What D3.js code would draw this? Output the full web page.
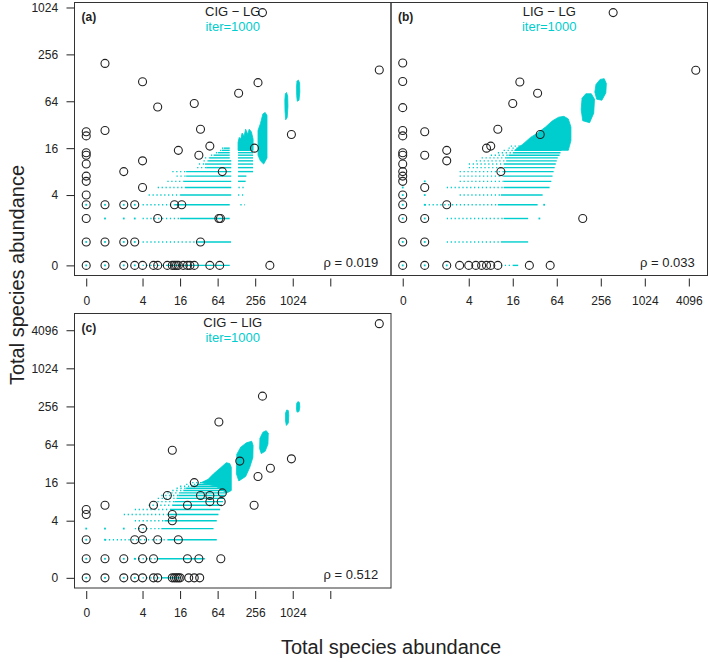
<!DOCTYPE html>
<html>
<head>
<meta charset="utf-8">
<script src="https://cdn.jsdelivr.net/npm/d3@7"></script>
<style>
  body { margin: 0; background: #fff; }
  svg text { font-family: "Liberation Sans", Arial, Helvetica, sans-serif; }
</style>
</head>
<body>
<div id="chart"></div>
<script>
// axis ticks (raw abundances)
const xTicks = [0, 4, 16, 64, 256, 1024, 4096];
const xLabelsAC = ['0', '4', '16', '64', '256', '1024', ''];
const xLabelsB = ['0', '4', '16', '64', '256', '1024', '4096'];
const yTicksA = [0, 4, 16, 64, 256, 1024];
const yTicksC = [0, 4, 16, 64, 256, 1024, 4096];

const titles = ['CIG \u2212 LG', 'LIG \u2212 LG', 'CIG \u2212 LIG'];
const letters = ['(a)', '(b)', '(c)'];
const rhos = ['0.019', '0.033', '0.512'];

// observed species totals, [x, y]
const obsA = [
  [0,26],[0,23],[0,14],[0,13],[0,10],[0,7],[0,6],[0,4],[0,3],[0,2],[0,1],[0,0],
  [1,196],[1,27],[1,3],[1,1],[1,0],
  [2,8],[2,3],[2,1],[2,0],
  [3,3],[3,1],[3,0],
  [4,114],[4,11],[4,5],[4,0],
  [6,0],[7,54],[7,2],[7,0],[10,0],[12,0],[13,0],[14,0],[15,0],[18,0],[21,0],[23,0],[27,0],[48,0],[69,0],[440,0],
  [13,3],[17,3],[67,2],[71,2],[34,1],
  [15,15],[32,13],[48,17],[34,28],[27,60],[76,8],
  [139,81],[284,111],[249,16],[975,24],[335,880],[25000,161]
];
const obsB = [
  [0,198],[0,115],[0,53],[0,27],[0,23],[0,14],[0,13],[0,10],[0,8],[0,7],[0,6],[0,4],[0,3],[0,2],[0,1],[0,0],
  [1,26],[1,13],[1,5],[1,2],[1,1],[1,0],
  [2,15],[2,11],[2,3],[2,0],
  [3,0],[4,0],[5,0],[6,0],[7,0],[8,0],[10,0],[27,0],[52,0],
  [7,16],[8,17],[10,28],[11,8],[16,60],[20,113],[35,81],[38,24],[145,2],[378,880],[5100,160]
];
const obsC = [
  [0,6],[0,5],[0,2],[0,1],[0,0],
  [1,7],[1,1],[1,0],
  [2,1],[2,0],
  [3,2],[3,0],
  [4,3],[4,2],[4,1],[4,0],
  [6,7],[6,1],[6,0],
  [7,2],[7,0],
  [10,10],[12,52],[12,5],[12,4],[12,0],[13,0],[14,0],[15,2],[15,0],[16,0],
  [21,7],[21,1],[22,0],[27,0],[33,0],[32,1],[27,16],[34,10],[48,10],[48,8],
  [72,1],[73,8],[76,11],[67,145],[145,35],[246,7],[284,20],[449,27],[975,38],[335,372],[25000,5200]
];

// simulated rows (iter=1000): [y, first x, start of dense part, last x]
const rowsA = [
  [0,4,10,100],[1,4,30,105],[2,4,16,100],[3,4,13,100],[4,5,16,106],[5,7,19,106],
  [6,10,18,106],[7,14,20,106],[8,12,20,106],[9,30,42,106],[10,32,40,106],[11,38,45,106],
  [12,40,48,100],[13,50,55,100],[14,60,65,100],[15,70,75,100],[16,75,80,100],
  [3,148,175,175],[4,136,175,175],[5,138,180,180],[6,136,136,180],[7,136,136,185],
  [8,136,136,237],[9,136,136,237],[10,136,136,237],[11,136,136,237],[12,136,136,237],
  [13,136,136,237],[14,136,136,237],[15,136,136,237]
];
const rowsB = [
  [0,11,16,19],[1,2,11,26],[2,2,12,26],[3,1,10,35],[4,3,11,41],[5,2,12,51],
  [6,3,12,54],[7,3,12,56],[8,3,12,58],[9,4,12,60],[10,4,12,62],[11,5,13,64],
  [12,6,13,66],[13,8,14,70],[14,10,16,72],[15,12,17,74],[16,14,18,78],[17,15,19,80]
];
const rowsC = [
  [0,4,8,16],[1,3,7,40],[2,1,10,62],[3,3,8,55],[4,3,9,62],[5,2,10,66],
  [6,3,11,70],[7,5,12,75],[8,6,13,78],[9,7,14,82],[10,8,15,85],[11,10,16,88],
  [12,12,18,90],[13,14,20,92],[14,16,24,95],[15,20,30,97],[16,25,38,100]
];

// single simulated points at small values
const dotsA = [[0,0],[1,0],[2,0],[3,0],[0,1],[1,1],[2,1],[3,1],[1,2],[2,2],[3,2],[0,3],[1,3],[2,3],[3,3]];
const dotsB = [[0,0],[1,0],[2,0],[0,1],[1,1],[0,2],[1,2],[0,3],[1,3],[0,4],[1,4],[0,5],[1,6],[37,2],[43,3]];
const dotsC = [[0,0],[1,0],[2,0],[3,0],[0,1],[1,1],[2,1],[3,1],[0,2],[1,2],[0,3],[1,3],[2,3]];

// dense simulated clouds, outlines as [x, y]
const blobsA = [
  [[136,15],[136,19],[142,22],[150,21],[158,25],[170,23],[180,28],[195,24],[205,28],[222,26],[237,21],[237,15]],
  [[284,13],[284,27],[310,33],[340,44],[370,46],[396,42],[396,12],[350,10],[310,11]],
  [[790,37],[770,48],[765,66],[778,80],[815,83],[850,74],[858,55],[835,40]],
  [[1210,64],[1185,76],[1180,100],[1200,116],[1260,120],[1320,110],[1330,84],[1290,66]]
];
const blobsB = [
  [[17,15],[22,18],[28,22],[35,25],[45,30],[56,36],[68,40],[80,41],[92,38],[100,30],[100,20],[92,15]],
  [[145,36],[138,50],[142,70],[160,80],[190,80],[210,68],[205,45],[180,34]],
  [[225,68],[212,84],[220,105],[250,122],[285,125],[305,108],[300,82],[265,66]]
];
const blobsC = [
  [[35,16],[45,18],[55,22],[70,27],[88,33],[100,32],[106,28],[106,12],[90,11],[60,14]],
  [[140,17],[128,22],[130,45],[150,58],[185,68],[225,72],[237,62],[235,40],[210,28],[180,20]],
  [[320,46],[302,55],[305,80],[340,100],[385,106],[415,96],[410,65],[370,50]],
  [[810,128],[785,150],[785,200],[820,225],[870,220],[885,185],[870,140]],
  [[1200,208],[1178,230],[1185,285],[1240,305],[1310,295],[1330,250],[1290,212]]
];

const CYAN = '#00cdcd';
const INK = '#222';
const W = 709, H = 662;

// axes are log2(x) + 1, with zero kept at 0
const tr = v => v > 0 ? Math.log2(v) + 1 : 0;
const pad = ([a, b]) => [a - 0.04 * (b - a), b + 0.04 * (b - a)];

const svg = d3.select('#chart').append('svg')
  .attr('width', W).attr('height', H)
  .style('display', 'block');

const panels = [
  { box: {x0: 74.5, x1: 391, y0: 2.5, y1: 275.5}, obs: obsA, rows: rowsA, dots: dotsA, blobs: blobsA,
    xLabels: xLabelsAC, yTicks: yTicksA, i: 0 },
  { box: {x0: 391, x1: 707.5, y0: 2.5, y1: 275.5}, obs: obsB, rows: rowsB, dots: dotsB, blobs: blobsB,
    xLabels: xLabelsB, yTicks: null, i: 1 },
  { box: {x0: 74.5, x1: 391, y0: 313.5, y1: 588}, obs: obsC, rows: rowsC, dots: dotsC, blobs: blobsC,
    xLabels: xLabelsAC, yTicks: yTicksC, i: 2 }
];

panels.forEach(p => drawPanel(p));

function drawPanel(p) {
  const box = p.box;
  const x = d3.scaleLinear()
    .domain(pad(d3.extent(p.obs, d => tr(d[0]))))
    .range([box.x0, box.x1]);
  const y = d3.scaleLinear()
    .domain(pad(d3.extent(p.obs, d => tr(d[1]))))
    .range([box.y1, box.y0]);
  const X = v => x(tr(v)), Y = v => y(tr(v));

  const g = svg.append('g');

  // clouds
  const outline = d3.line().x(d => X(d[0])).y(d => Y(d[1])).curve(d3.curveLinearClosed);
  g.append('g').selectAll('path')
    .data(p.blobs)
    .join('path')
      .attr('d', outline)
      .attr('fill', CYAN)
      .attr('stroke', CYAN)
      .attr('stroke-width', 0.8);

  // sparse part of each row
  g.append('g').selectAll('line')
    .data(p.rows.filter(r => r[2] > r[1]))
    .join('line')
      .attr('x1', r => X(r[1])).attr('x2', r => X(r[2]))
      .attr('y1', r => Y(r[0])).attr('y2', r => Y(r[0]))
      .attr('stroke', CYAN)
      .attr('stroke-width', 1.4)
      .attr('stroke-dasharray', '1.3,2.6');

  // dense part of each row
  g.append('g').selectAll('line')
    .data(p.rows.filter(r => r[3] > r[2]))
    .join('line')
      .attr('x1', r => X(r[2])).attr('x2', r => X(r[3]))
      .attr('y1', r => Y(r[0])).attr('y2', r => Y(r[0]))
      .attr('stroke', CYAN)
      .attr('stroke-width', 1.4);

  g.append('g').selectAll('rect')
    .data(p.dots)
    .join('rect')
      .attr('x', d => X(d[0]) - 0.9).attr('y', d => Y(d[1]) - 0.9)
      .attr('width', 1.8).attr('height', 1.8)
      .attr('fill', CYAN);

  // observed
  g.append('g').selectAll('circle')
    .data(p.obs)
    .join('circle')
      .attr('cx', d => X(d[0]))
      .attr('cy', d => Y(d[1]))
      .attr('r', 4)
      .attr('fill', 'none')
      .attr('stroke', INK)
      .attr('stroke-width', 1.1);

  g.append('rect')
    .attr('x', box.x0).attr('y', box.y0)
    .attr('width', box.x1 - box.x0).attr('height', box.y1 - box.y0)
    .attr('fill', 'none')
    .attr('stroke', '#333')
    .attr('stroke-width', 1);

  // x axis, hung a little below the box like base R
  const xAxis = g.append('g')
    .attr('transform', 'translate(0,' + (box.y1 + 3) + ')')
    .call(d3.axisBottom(x)
      .tickValues(xTicks.map(tr))
      .tickFormat((d, i) => p.xLabels[i])
      .tickSize(8)
      .tickPadding(9.5)
      .tickSizeOuter(0));
  xAxis.select('.domain').remove();
  xAxis.attr('font-size', 12).attr('font-family', null).style('color', INK);

  if (p.yTicks) {
    const yAxis = g.append('g')
      .attr('transform', 'translate(' + box.x0 + ',0)')
      .call(d3.axisLeft(y)
        .tickValues(p.yTicks.map(tr))
        .tickFormat((d, i) => String(p.yTicks[i]))
        .tickSize(8)
        .tickPadding(8.4)
        .tickSizeOuter(0));
    yAxis.select('.domain').remove();
    yAxis.attr('font-size', 12).attr('font-family', null).style('color', INK);
  }

  const cx = (box.x0 + box.x1) / 2;
  g.append('text')
    .attr('x', cx).attr('y', box.y0 + 13.8)
    .attr('text-anchor', 'middle')
    .attr('font-size', 13)
    .attr('fill', INK)
    .text(titles[p.i]);
  g.append('text')
    .attr('x', cx).attr('y', box.y0 + 28.3)
    .attr('text-anchor', 'middle')
    .attr('font-size', 13)
    .attr('fill', CYAN)
    .text('iter=1000');
  g.append('text')
    .attr('x', box.x0 + 7).attr('y', box.y0 + 18.3)
    .attr('font-size', 12)
    .attr('font-weight', 'bold')
    .attr('fill', INK)
    .text(letters[p.i]);
  g.append('text')
    .attr('x', box.x1 - 12.7).attr('y', box.y1 - 9)
    .attr('text-anchor', 'end')
    .attr('font-size', 13)
    .attr('fill', INK)
    .text('\u03c1 = ' + rhos[p.i]);
}

// shared axis titles
svg.append('text')
  .attr('x', 391).attr('y', 654)
  .attr('text-anchor', 'middle')
  .attr('font-size', 20)
  .attr('fill', INK)
  .text('Total species abundance');
svg.append('text')
  .attr('transform', 'translate(24,275) rotate(-90)')
  .attr('text-anchor', 'middle')
  .attr('font-size', 20)
  .attr('fill', INK)
  .text('Total species abundance');
</script>
</body>
</html>
